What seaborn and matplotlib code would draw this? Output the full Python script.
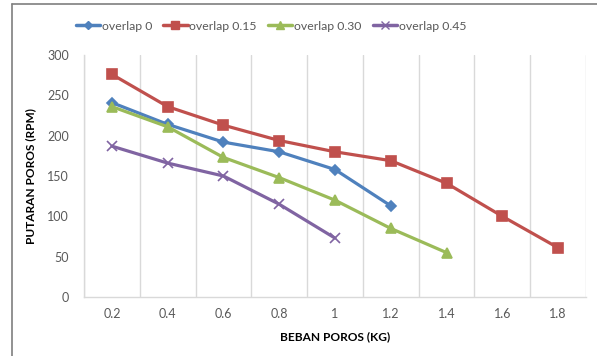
import matplotlib
matplotlib.use("Agg")
import matplotlib.pyplot as plt
import matplotlib.lines as mlines
import seaborn as sns
import pandas as pd
import numpy as np

loads = [0.2, 0.4, 0.6, 0.8, 1.0, 1.2, 1.4, 1.6, 1.8]
tick_labels = ["0.2", "0.4", "0.6", "0.8", "1", "1.2", "1.4", "1.6", "1.8"]
series_names = ["overlap 0", "overlap 0.15", "overlap 0.30", "overlap 0.45"]
overlap_0 = [241, 214, 192, 180, 158, 113]
overlap_015 = [276, 236, 213, 194, 180, 169, 141, 100, 61]
overlap_030 = [236, 211, 173, 148, 120, 85, 55]
overlap_045 = [187, 166, 150, 115, 73]

rows = []
for name, vals in zip(series_names, [overlap_0, overlap_015, overlap_030, overlap_045]):
    for x, v in zip(loads, vals):
        rows.append({"load": x, "rpm": v, "series": name})
df = pd.DataFrame(rows)

sns.set_theme(style="white")
plt.rcParams["font.family"] = ["Lato", "DejaVu Sans"]

colors = ["#4F81BD", "#C0504D", "#9BBB59", "#8064A2"]
markers = {"overlap 0": "D", "overlap 0.15": "s", "overlap 0.30": "^", "overlap 0.45": "x"}
msizes = {"overlap 0": 5.5, "overlap 0.15": 7.5, "overlap 0.30": 7.5, "overlap 0.45": 7}

fig = plt.figure(figsize=(5.97, 3.56), dpi=100)
ax = fig.add_axes([84/597, 1-297/356, (586-84)/597, (297-55)/356])

for name, c in zip(series_names, colors):
    sub = df[df["series"] == name]
    sns.lineplot(data=sub, x="load", y="rpm", ax=ax, color=c, lw=2.3,
                 marker=markers[name], markersize=msizes[name],
                 markeredgecolor=c, markerfacecolor=c,
                 markeredgewidth=1.2, label=name, legend=False)

ax.set_xlim(0.1, 1.9)
ax.set_ylim(0, 300)
ax.set_yticks(np.arange(0, 301, 50))
ax.set_xticks(loads)
ax.set_xticklabels(tick_labels)
ax.set_xticks(np.arange(0.1, 1.91, 0.2), minor=True)
ax.grid(False)
ax.grid(True, which="minor", axis="x", color="#D9D9D9", lw=1)
ax.tick_params(axis="both", which="both", length=0, labelsize=9, colors="#595959")
ax.tick_params(axis="x", pad=8)
ax.tick_params(axis="y", pad=11)
for s in ["top", "right"]:
    ax.spines[s].set_visible(False)
for s in ["left", "bottom"]:
    ax.spines[s].set_color("#D9D9D9")
    ax.spines[s].set_linewidth(1)

ax.set_xlabel("BEBAN POROS (KG)", fontsize=8.6, fontweight="bold", color="black", labelpad=8)
ax.set_ylabel("PUTARAN POROS (RPM)", fontsize=8.6, fontweight="bold", color="black", labelpad=8)

handles = [mlines.Line2D([], [], color=c, lw=2.5, marker=markers[n], markersize=msizes[n]*0.75,
                         markeredgecolor=c, markerfacecolor=c) for n, c in zip(series_names, colors)]
fig.legend(handles, series_names, loc="center", bbox_to_anchor=(271/597, 1-26/356),
           ncol=4, frameon=False, fontsize=8.8, handlelength=2.0, handletextpad=0.15,
           columnspacing=0.9, labelcolor="#595959")

fig.add_artist(mlines.Line2D([12/597, 12/597], [0, 1-4/356], color="#7F7F7F", lw=1.2,
                             transform=fig.transFigure))
fig.add_artist(mlines.Line2D([12/597, 1], [1-4/356, 1-4/356], color="#7F7F7F", lw=1.2,
                             transform=fig.transFigure))

fig.savefig("out.png", dpi=100)
